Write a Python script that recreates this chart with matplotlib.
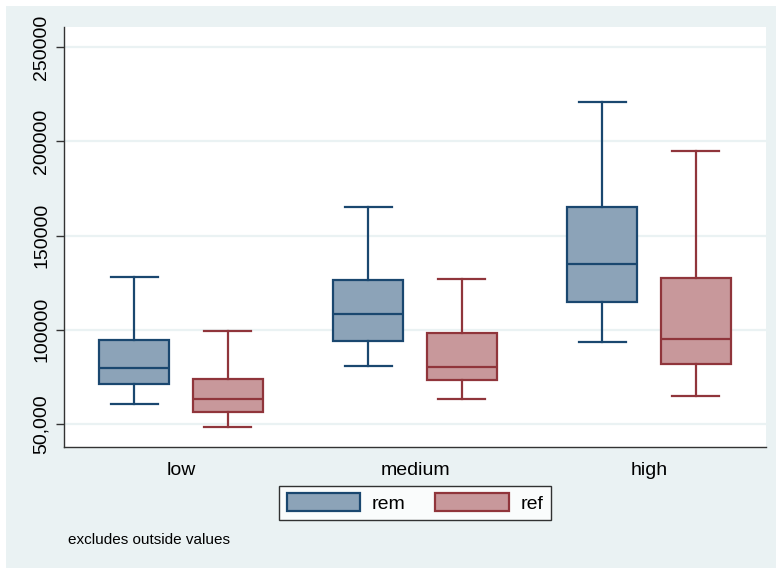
import matplotlib; matplotlib.use('Agg')
import matplotlib.pyplot as plt
from matplotlib.patches import Patch, Rectangle

# box stats: (whislo, q1, med, q3, whishi)
groups = ["low", "medium", "high"]
rem_stats = [(60500, 71200, 79700, 94600, 128000),
             (80900, 94200, 108300, 126400, 165300),
             (93700, 114900, 135000, 165000, 220700)]
ref_stats = [(48600, 56400, 63300, 74000, 99500),
             (63400, 73200, 80200, 98300, 126900),
             (64900, 81700, 95300, 127300, 195000)]
series = ["rem", "ref"]
yticks = [50000, 100000, 150000, 200000, 250000]
ytick_labels = ["50,000", "100000", "150000", "200000", "250000"]

BG = '#EAF2F3'
fills = {'rem': '#8CA3B8', 'ref': '#C8989B'}
edges = {'rem': '#1A476F', 'ref': '#90353B'}

plt.rcParams['font.family'] = ['Liberation Sans', 'DejaVu Sans']
fig = plt.figure(figsize=(7.76, 5.69), dpi=100, facecolor='white')
W, H = 776, 569
fig.patches.append(Rectangle((6 / W, 1 - 568 / H), 770 / W, 562 / H,
                             transform=fig.transFigure, facecolor=BG,
                             edgecolor='none', zorder=-10))

ax = fig.add_axes([64 / W, 1 - 447 / H, 702 / W, (447 - 26.7) / H])
ax.set_facecolor('white')

def mkstats(s):
    lo, q1, med, q3, hi = s
    return dict(whislo=lo, q1=q1, med=med, q3=q3, whishi=hi, fliers=[])

for name, stats, off in [("rem", rem_stats, -0.2), ("ref", ref_stats, 0.2)]:
    pos = [i + off for i in range(len(groups))]
    c = edges[name]
    ax.bxp([mkstats(s) for s in stats], positions=pos, widths=0.3,
           capwidths=0.2, patch_artist=True, showfliers=False,
           boxprops=dict(facecolor=fills[name], edgecolor=c, linewidth=1.6),
           medianprops=dict(color=c, linewidth=1.6),
           whiskerprops=dict(color=c, linewidth=1.6),
           capprops=dict(color=c, linewidth=1.6), manage_ticks=False)

ax.set_xlim(-0.5, 2.5)
ax.set_ylim(37800, 260800)
ax.set_yticks(yticks)
ax.set_yticklabels(ytick_labels, rotation=90, va='center', fontsize=14)
ax.set_xticks(range(len(groups)))
ax.set_xticklabels(groups, fontsize=14)
ax.tick_params(axis='x', length=0, pad=11)
ax.tick_params(axis='y', length=6, width=1, pad=4, color='#333333')
for y in yticks:
    ax.axhline(y, color=BG, lw=1.6, zorder=0)
for sp in ['top', 'right']:
    ax.spines[sp].set_visible(False)
for sp in ['left', 'bottom']:
    ax.spines[sp].set_color('#333333')
    ax.spines[sp].set_linewidth(1)

handles = [Patch(facecolor=fills[n], edgecolor=edges[n], linewidth=1.6) for n in series]
leg = fig.legend(handles, series, loc='center', bbox_to_anchor=(415 / W, 1 - 503 / H),
                 ncol=2, fontsize=14, frameon=True, fancybox=False,
                 handlelength=3.8, handleheight=1.0, handletextpad=0.6,
                 columnspacing=1.5, borderpad=0.4)
leg.get_frame().set_edgecolor('black')
leg.get_frame().set_linewidth(1)

fig.text(68 / W, 1 - 540 / H, "excludes outside values", fontsize=11, va='center')

plt.savefig("out.png", dpi=100, facecolor='white')
